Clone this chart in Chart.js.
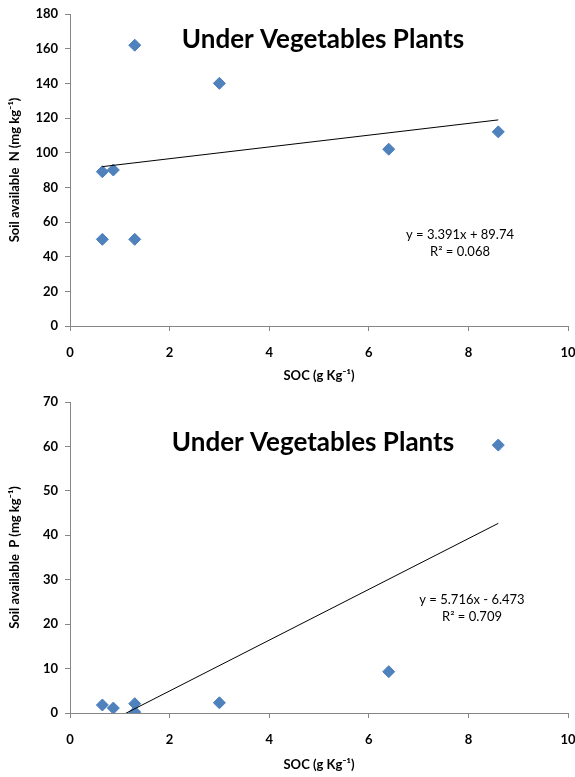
<!DOCTYPE html>
<html>
<head>
<meta charset="utf-8">
<script src="https://cdn.jsdelivr.net/npm/chart.js@4.4.1/dist/chart.umd.min.js"></script>
<style>
  html, body { margin: 0; padding: 0; background: #fff; }
  .box { position: absolute; left: 0; width: 575px; }
  #top { top: 0; height: 388px; }
  #bottom { top: 388px; height: 389px; }
</style>
</head>
<body>
<div class="box" id="top"><canvas id="chartN" width="575" height="388"></canvas></div>
<div class="box" id="bottom"><canvas id="chartP" width="575" height="389"></canvas></div>
<script>
// SOC (g Kg-1) values for the sampled plots
const socN = [0.65, 0.87, 1.3, 3.0, 6.4, 8.6, 0.65, 1.3];
const soilN = [89, 90, 162, 140, 102, 112, 50, 50];
const socP = [0.65, 0.87, 1.3, 1.3, 3.0, 6.4, 8.6];
const soilP = [1.8, 1.1, 2.1, 0.2, 2.3, 9.3, 60.3];

// linear trendlines as reported in the figure
const fitN = { slope: 3.391, icept: 89.74, eq: 'y = 3.391x + 89.74', r2: 'R² = 0.068' };
const fitP = { slope: 5.716, icept: -6.473, eq: 'y = 5.716x - 6.473', r2: 'R² = 0.709' };

const xTicks = [0, 2, 4, 6, 8, 10];
const yTicksN = [0, 20, 40, 60, 80, 100, 120, 140, 160, 180];
const yTicksP = [0, 10, 20, 30, 40, 50, 60, 70];

const FONT = 'Lato, "Open Sans", sans-serif';
const AXIS = '#868686';
const MARK = '#4F81BD';

function pts(xs, ys) {
    return xs.map((x, i) => ({ x: x, y: ys[i] }));
}

function trend(xs, fit) {
    const lo = Math.min(...xs), hi = Math.max(...xs);
    return [lo, hi].map(x => ({ x: x, y: fit.slope * x + fit.icept }));
}

// draws title and trendline equation inside the plot area
const annot = {
    id: 'annot',
    afterDatasetsDraw(chart, args, opts) {
        const ctx = chart.ctx;
        ctx.save();
        ctx.fillStyle = '#000';
        ctx.textAlign = 'center';
        ctx.textBaseline = 'middle';
        ctx.font = 'bold 26px ' + FONT;
        ctx.fillText('Under Vegetables Plants', opts.titleX, opts.titleY);
        ctx.font = '13px ' + FONT;
        ctx.fillText(opts.eq, opts.eqX, opts.eqY);
        ctx.fillText(opts.r2, opts.eqX, opts.eqY + 17);
        ctx.restore();
    }
};

function makeChart(id, xs, ys, fit, yTicks, yMax, yTitle, xHeight, note) {
    return new Chart(document.getElementById(id), {
        type: 'scatter',
        data: {
            datasets: [
                {
                    data: trend(xs, fit),
                    showLine: true,
                    borderColor: '#000',
                    borderWidth: 1,
                    pointRadius: 0,
                    order: 0
                },
                {
                    data: pts(xs, ys),
                    pointStyle: 'rectRot',
                    pointRadius: 6,
                    backgroundColor: MARK,
                    borderColor: '#4A7EBB',
                    borderWidth: 1,
                    order: 1
                }
            ]
        },
        options: {
            responsive: false,
            animation: false,
            layout: { padding: { top: 14, right: 7, left: 0, bottom: 0 } },
            plugins: {
                legend: { display: false },
                tooltip: { enabled: false },
                annot: note
            },
            scales: {
                x: {
                    min: 0, max: 10,
                    afterBuildTicks: s => { s.ticks = xTicks.map(v => ({ value: v })); },
                    afterFit: s => { s.height = xHeight; s.paddingLeft = 0; s.paddingRight = 0; },
                    border: { color: AXIS, width: 1 },
                    grid: { drawOnChartArea: false, drawTicks: true, tickLength: 5, color: AXIS },
                    ticks: { color: '#000', padding: 14, font: { family: FONT, size: 13, weight: 'bold' } },
                    title: {
                        display: true, text: 'SOC (g Kg⁻¹)', color: '#000',
                        padding: { top: 4, bottom: 4 },
                        font: { family: FONT, size: 13, weight: 'bold' }
                    }
                },
                y: {
                    min: 0, max: yMax,
                    afterBuildTicks: s => { s.ticks = yTicks.map(v => ({ value: v })); },
                    afterFit: s => { s.width = 70; s.paddingTop = 0; s.paddingBottom = 0; },
                    border: { color: AXIS, width: 1 },
                    grid: { drawOnChartArea: false, drawTicks: true, tickLength: 5, color: AXIS },
                    ticks: { color: '#000', padding: 7, font: { family: FONT, size: 13, weight: 'bold' } },
                    title: {
                        display: true, text: yTitle, color: '#000',
                        padding: { top: 7, bottom: 0 },
                        font: { family: FONT, size: 13, weight: 'bold' }
                    }
                }
            }
        },
        plugins: [annot]
    });
}

makeChart('chartN', socN, soilN, fitN, yTicksN, 180, 'Soil available  N (mg kg⁻¹)', 62,
    { titleX: 323, titleY: 40, eq: fitN.eq, r2: fitN.r2, eqX: 460, eqY: 235 });
makeChart('chartP', socP, soilP, fitP, yTicksP, 70, 'Soil available  P (mg kg⁻¹)', 64,
    { titleX: 313, titleY: 55, eq: fitP.eq, r2: fitP.r2, eqX: 472, eqY: 212 });
</script>
</body>
</html>
